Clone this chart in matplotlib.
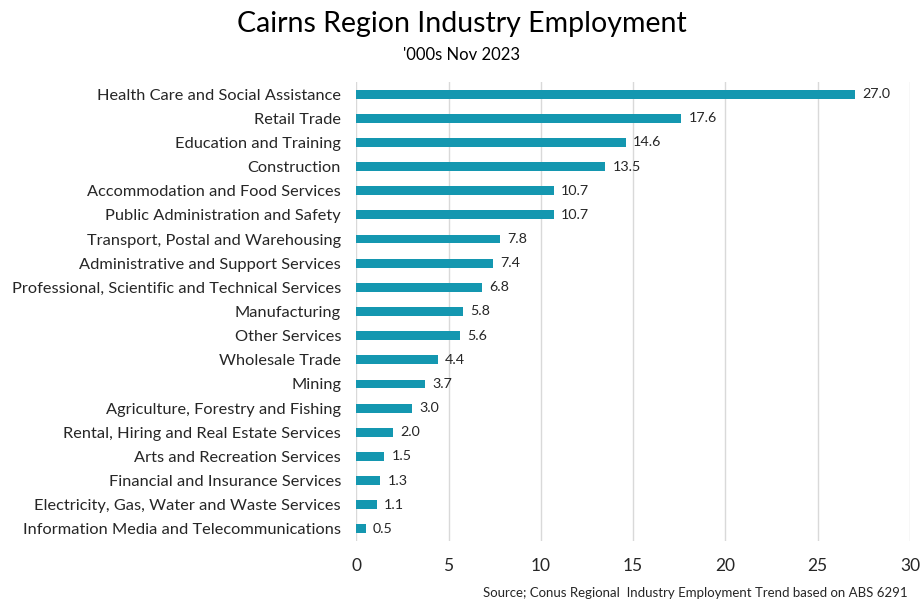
import numpy as np
from matplotlib import pyplot as plt

industries = ["Health Care and Social Assistance", "Retail Trade", "Education and Training",
              "Construction", "Accommodation and Food Services", "Public Administration and Safety",
              "Transport, Postal and Warehousing", "Administrative and Support Services",
              "Professional, Scientific and Technical Services", "Manufacturing", "Other Services",
              "Wholesale Trade", "Mining", "Agriculture, Forestry and Fishing",
              "Rental, Hiring and Real Estate Services", "Arts and Recreation Services",
              "Financial and Insurance Services", "Electricity, Gas, Water and Waste Services",
              "Information Media and Telecommunications"]
employment = [27.0, 17.6, 14.6, 13.5, 10.7, 10.7, 7.8, 7.4, 6.8, 5.8, 5.6, 4.4, 3.7, 3.0,
              2.0, 1.5, 1.3, 1.1, 0.5]
xticks = [0, 5, 10, 15, 20, 25, 30]

plt.rcParams['font.family'] = ['Lato', 'DejaVu Sans']
text_col = '#262626'

fig = plt.figure(figsize=(9.23, 6.01), dpi=100)
ax = fig.add_axes([0.386, 0.0998, 0.6, 0.7638])

y = np.arange(len(industries))
ax.barh(y, employment, height=0.37, color='#1497B0', zorder=3)
for yi, v in zip(y, employment):
    ax.text(v + 0.4, yi, '{:.1f}'.format(v), va='center', ha='left', fontsize=10.3, color=text_col)

ax.set_ylim(len(industries) - 0.5, -0.5)
ax.set_xlim(0, 30)
ax.set_xticks(xticks)
ax.set_yticks(y)
ax.set_yticklabels(industries, fontsize=11.8, color=text_col)
ax.tick_params(axis='x', labelsize=12.5, colors=text_col, length=0, pad=12)
ax.tick_params(axis='y', length=0, pad=11)
ax.grid(axis='x', color='#d9d9d9', linewidth=1, zorder=0)
for s in ax.spines.values():
    s.set_visible(False)

fig.text(0.5, 0.96, 'Cairns Region Industry Employment', ha='center', va='center',
         fontsize=20.5, color='black')
fig.text(0.5, 0.908, "'000s Nov 2023", ha='center', va='center', fontsize=12, color='black')
fig.text(0.983, 0.004, 'Source; Conus Regional  Industry Employment Trend based on ABS 6291',
         ha='right', va='bottom', fontsize=9.5, color=text_col)

fig.savefig('out.png', dpi=100)
